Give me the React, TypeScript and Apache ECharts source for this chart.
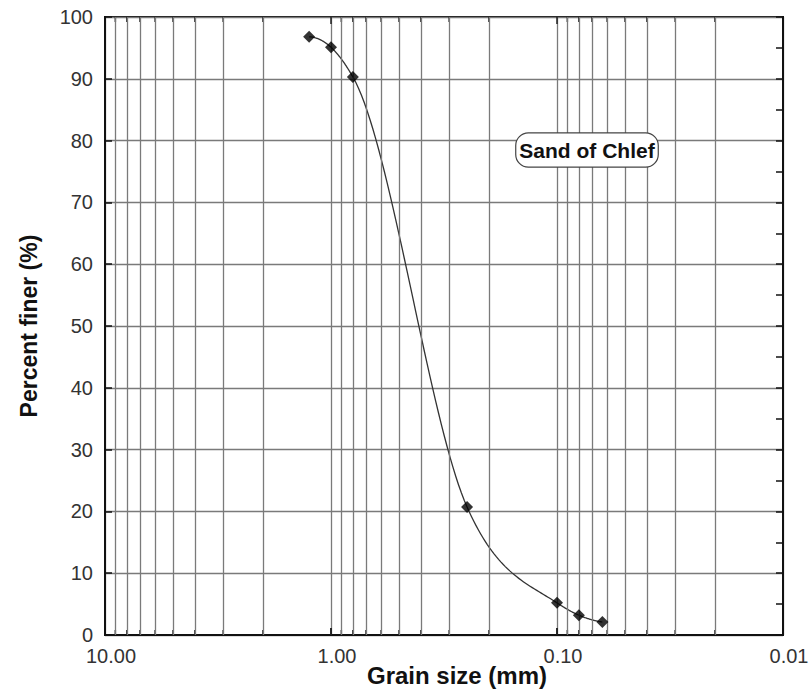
import React, { useEffect, useRef } from "react";
import * as echarts from "echarts";

// Sieve analysis data
const grainSize = [1.25, 1.0, 0.8, 0.25, 0.1, 0.08, 0.063];
const percentFiner = [96.8, 95.1, 90.3, 20.7, 5.2, 3.2, 2.1];

// Axis definitions
const xMin = 0.01;
const xMax = 10;
const yTicks = [0, 10, 20, 30, 40, 50, 60, 70, 80, 90, 100];
const majorTickValues = [1, 0.1];
const minorGridValues = [
  9, 8, 7, 6, 5, 4, 3, 2,
  0.9, 0.8, 0.7, 0.6, 0.5, 0.4, 0.3, 0.2,
  0.09, 0.08, 0.07, 0.06, 0.05, 0.04, 0.03, 0.02,
];
const annotationText = "Sand of Chlef";

const FONT = '"Liberation Sans", Arial, Helvetica, sans-serif';

// Smooth curve (cubic Hermite with Bessel tangents in log10(x) space),
// evaluated at render time between the measured points.
function tangents(u: number[], y: number[]): number[] {
  const n = u.length;
  const h: number[] = [];
  const s: number[] = [];
  for (let i = 0; i < n - 1; i++) {
    h.push(u[i + 1] - u[i]);
    s.push((y[i + 1] - y[i]) / (u[i + 1] - u[i]));
  }
  const m: number[] = new Array(n).fill(0);
  for (let i = 1; i < n - 1; i++) {
    m[i] = (h[i] * s[i - 1] + h[i - 1] * s[i]) / (h[i - 1] + h[i]);
  }
  m[0] = ((2 * h[0] + h[1]) * s[0] - h[0] * s[1]) / (h[0] + h[1]);
  const k = n - 2;
  m[n - 1] = ((2 * h[k] + h[k - 1]) * s[k] - h[k] * s[k - 1]) / (h[k - 1] + h[k]);
  return m;
}

export default function App() {
  const ref = useRef<HTMLDivElement>(null);
  useEffect(() => {
    if (!ref.current) return;
    const chart = echarts.init(ref.current, undefined, { renderer: "svg" });
    const gridColor = "#7a7a7a";
    const u = grainSize.map((g) => Math.log10(g));
    const m = tangents(u, percentFiner);
    const points = grainSize.map((g, i) => [g, percentFiner[i]]);
    const tickData = [
      ...minorGridValues.map((v) => [v, 0]),
      ...majorTickValues.map((v) => [v, 1]),
    ];

    chart.setOption({
      animation: false,
      backgroundColor: "#ffffff",
      grid: {
        left: 105,
        right: 28,
        top: 17,
        bottom: 62,
        outerBoundsMode: "none",
        containLabel: false,
        show: true,
        borderColor: "#111",
        borderWidth: 2,
        backgroundColor: "transparent",
      },
      xAxis: {
        type: "log",
        logBase: 10,
        min: xMin,
        max: xMax,
        inverse: true,
        name: "Grain size (mm)",
        nameLocation: "middle",
        nameGap: 28,
        nameMoveOverlap: false,
        nameTextStyle: {
          fontFamily: FONT,
          fontWeight: "bold",
          fontSize: 24,
          color: "#111",
          padding: [0, 0, 0, 26],
        },
        axisLine: { show: true, lineStyle: { color: "#111", width: 2 } },
        axisTick: { show: true, inside: true, length: 7, lineStyle: { color: "#111", width: 1.5 } },
        axisLabel: {
          fontFamily: FONT,
          fontSize: 20,
          color: "#333",
          margin: 11,
          padding: [0, 0, 0, 12],
          formatter: (v: number) => v.toFixed(2),
        },
        splitLine: { show: true, lineStyle: { color: gridColor, width: 1.3 } },
      },
      yAxis: [
        {
          type: "value",
          min: yTicks[0],
          max: yTicks[yTicks.length - 1],
          interval: 10,
          name: "Percent finer (%)",
          nameLocation: "middle",
          nameGap: 65,
          nameMoveOverlap: false,
          nameTextStyle: {
            fontFamily: FONT,
            fontWeight: "bold",
            fontSize: 23,
            color: "#111",
          },
          axisLine: { show: true, lineStyle: { color: "#111", width: 2 } },
          axisTick: { show: true, inside: true, length: 7, lineStyle: { color: "#111", width: 1.5 } },
          axisLabel: {
            fontFamily: FONT,
            fontSize: 20,
            color: "#333",
            margin: 12,
          },
          splitLine: { show: true, lineStyle: { color: gridColor, width: 1.3 } },
        },
        {
          type: "value",
          position: "right",
          min: 0,
          max: 100,
          interval: 5,
          axisLine: { show: true, lineStyle: { color: "#111", width: 2 } },
          axisTick: { show: true, inside: true, length: 7, lineStyle: { color: "#111", width: 1.5 } },
          axisLabel: { show: false },
          splitLine: { show: false },
        },
      ],
      series: [
        {
          type: "line",
          name: "gridMinor",
          data: [],
          silent: true,
          markLine: {
            silent: true,
            symbol: ["none", "none"],
            label: { show: false },
            lineStyle: { color: gridColor, width: 1.3, type: "solid" },
            data: minorGridValues.map((v) => ({ xAxis: v })),
          },
        },
        {
          type: "custom",
          name: "xTicks",
          silent: true,
          data: tickData,
          z: 3,
          renderItem: (params: any, api: any) => {
            const v = api.value(0);
            const major = api.value(1) === 1;
            const len = major ? 7 : 5;
            const bottom = api.coord([v, yTicks[0]]);
            const top = api.coord([v, yTicks[yTicks.length - 1]]);
            const style = { stroke: "#222", lineWidth: 1.5 };
            return {
              type: "group",
              children: [
                {
                  type: "line",
                  shape: { x1: bottom[0], y1: bottom[1], x2: bottom[0], y2: bottom[1] - len },
                  style,
                },
                {
                  type: "line",
                  shape: { x1: top[0], y1: top[1], x2: top[0], y2: top[1] + len },
                  style,
                },
              ],
            };
          },
        },
        {
          type: "custom",
          name: "curve",
          silent: true,
          data: points,
          z: 4,
          renderItem: (params: any, api: any) => {
            const i = params.dataIndex;
            if (i >= grainSize.length - 1) return null;
            const u0 = u[i];
            const u1 = u[i + 1];
            const hh = u1 - u0;
            const pts: number[][] = [];
            const steps = 40;
            for (let k = 0; k <= steps; k++) {
              const t = k / steps;
              const t2 = t * t;
              const t3 = t2 * t;
              const yv =
                (2 * t3 - 3 * t2 + 1) * percentFiner[i] +
                (t3 - 2 * t2 + t) * hh * m[i] +
                (-2 * t3 + 3 * t2) * percentFiner[i + 1] +
                (t3 - t2) * hh * m[i + 1];
              const xv = Math.pow(10, u0 + t * hh);
              pts.push(api.coord([xv, yv]));
            }
            return {
              type: "polyline",
              shape: { points: pts },
              style: { stroke: "#333", lineWidth: 1.3, fill: null },
            };
          },
        },
        {
          type: "scatter",
          name: "Sand of Chlef",
          data: points,
          symbol: "diamond",
          symbolSize: 12,
          itemStyle: { color: "#000" },
          z: 5,
        },
      ],
      graphic: [
        {
          type: "text",
          x: 587,
          y: 150,
          z: 10,
          style: {
            text: annotationText,
            font: `bold 21px ${FONT}`,
            fill: "#111",
            align: "center",
            verticalAlign: "middle",
            backgroundColor: "#ffffff",
            borderColor: "#444",
            borderWidth: 1.2,
            borderRadius: 12,
            padding: [6, 3, 6, 3],
          },
        },
      ],
    });
    return () => chart.dispose();
  }, []);
  return (
    <div
      ref={ref}
      style={{ position: "absolute", left: 0, top: 0, width: 811, height: 697, background: "#fff" }}
    />
  );
}
